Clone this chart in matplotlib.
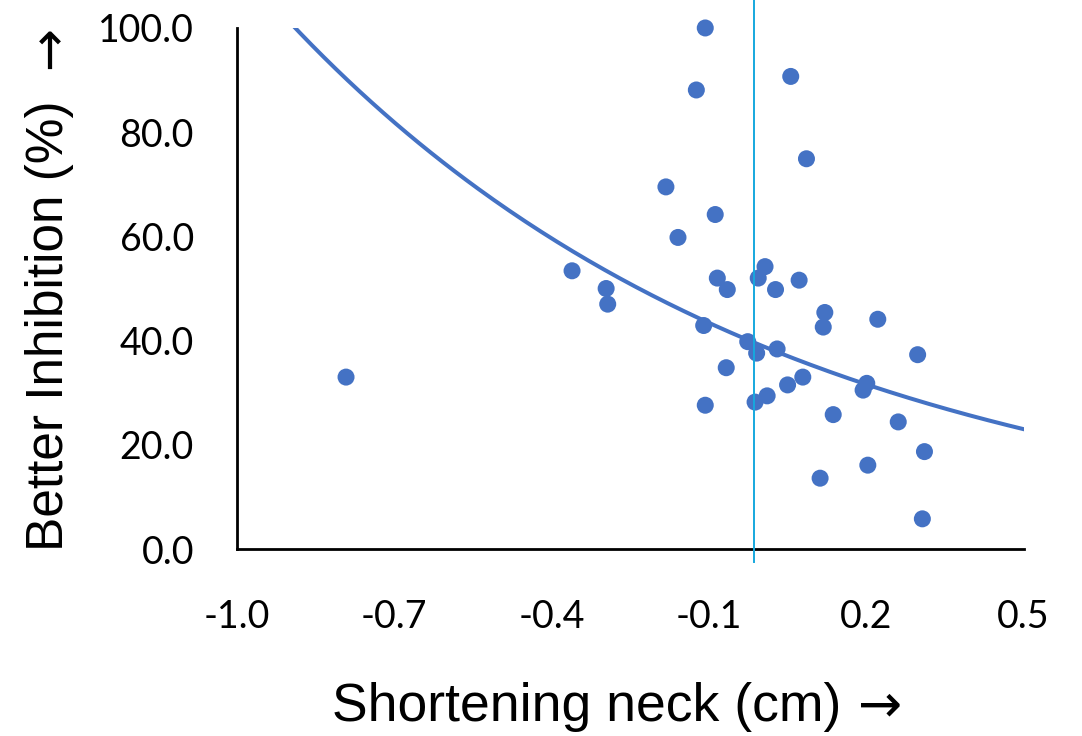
# Scatter of inhibition vs neck shortening, with exponential trendline
import numpy as np
import matplotlib.pyplot as plt

# values
shortening = [-0.792, -0.361, -0.296, -0.293, -0.182, -0.159, -0.124, -0.107, -0.110, -0.107,
              -0.088, -0.084, -0.065, -0.067, -0.026, -0.009, -0.012, -0.006, 0.007, 0.011,
              0.027, 0.030, 0.050, 0.056, 0.072, 0.079, 0.086, 0.118, 0.121, 0.112,
              0.137, 0.194, 0.201, 0.203, 0.222, 0.261, 0.298, 0.311, 0.307]
inhibition = [33.0, 53.4, 50.0, 47.0, 69.5, 59.8, 88.1, 100.0, 42.9, 27.6,
              64.2, 52.0, 49.8, 34.8, 39.8, 37.6, 28.2, 52.0, 54.2, 29.4,
              49.8, 38.4, 31.5, 90.7, 51.6, 33.0, 74.9, 42.6, 45.4, 13.6,
              25.8, 30.5, 31.8, 16.1, 44.1, 24.4, 37.3, 18.7, 5.8]
xticks = [-1.0, -0.7, -0.4, -0.1, 0.2, 0.5]
yticks = [0, 20, 40, 60, 80, 100]
marker_x = -0.015  # the thin vertical line

x = np.array(shortening)
y = np.array(inhibition)

# exponential trendline, fitted on log(y) like Excel does
b, ln_a = np.polyfit(x, np.log(y), 1)
xs = np.linspace(-1.0, 0.5, 200)
ys = np.exp(ln_a) * np.exp(b * xs)

fig = plt.figure(figsize=(10.82, 7.36), dpi=100)
ax = fig.add_axes([0.219, 0.254, 0.727, 0.708])

blue = '#4472C4'
ax.plot(xs, ys, color=blue, lw=2.9, zorder=2)
ax.scatter(x, y, s=150, color=blue, edgecolors='none', zorder=3, clip_on=False)
ax.plot([marker_x, marker_x], [-2.5, 106], color='#16A8DE', lw=1.4, clip_on=False, zorder=4)

ax.set_xlim(-1.0, 0.5)
ax.set_ylim(0, 100)
ax.set_xticks(xticks)
ax.set_yticks(yticks)
ax.set_xticklabels(['%.1f' % t for t in xticks], family='Lato', fontsize=27)
ax.set_yticklabels(['%.1f' % t for t in yticks], family='Lato', fontsize=27)
ax.tick_params(axis='x', length=0, pad=36)
ax.tick_params(axis='y', length=0, pad=31)

for side in ['top', 'right']:
    ax.spines[side].set_visible(False)
for side in ['left', 'bottom']:
    ax.spines[side].set_linewidth(2.0)
    ax.spines[side].set_color('black')

# axis titles, with a bigger arrow glyph next to each
lab_font = 'Liberation Sans'
xt = fig.text(0.542, 0.040, 'Shortening neck (cm)', family=lab_font, fontsize=38.5,
              ha='center', va='center')
ax.annotate('\u2192', xy=(1, 0.5), xycoords=xt, xytext=(12, 0), textcoords='offset points',
            family='DejaVu Sans', fontsize=38, ha='left', va='center')
yt = fig.text(0.046, 0.557, 'Better Inhibition (%)', family=lab_font, fontsize=37,
              ha='center', va='center', rotation=90)
ax.annotate('\u2192', xy=(0.5, 1), xycoords=yt, xytext=(0, 23), textcoords='offset points',
            family='DejaVu Sans', fontsize=37, ha='center', va='bottom', rotation=90)

fig.savefig('out.png', dpi=100)
